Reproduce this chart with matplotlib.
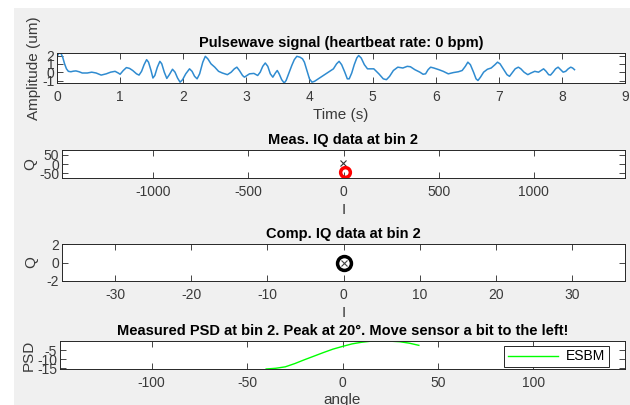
import matplotlib.pyplot as plt
from matplotlib.patches import Rectangle

plt.rcParams['font.family'] = ['Liberation Sans', 'DejaVu Sans']
plt.rcParams['font.size'] = 10
plt.rcParams['axes.unicode_minus'] = False

# pulse wave (s, um)
t_pulse = [0.00, 0.03, 0.06, 0.09, 0.12, 0.15, 0.18, 0.22, 0.26, 0.30, 0.35, 0.40,
           0.48, 0.55, 0.62, 0.70, 0.78, 0.85, 0.92, 0.97, 1.00, 1.05, 1.10, 1.15,
           1.20, 1.26, 1.30, 1.34, 1.38, 1.42, 1.45, 1.49, 1.52, 1.55, 1.59, 1.63,
           1.66, 1.70, 1.74, 1.78, 1.83, 1.87, 1.91, 1.95, 1.99, 2.04, 2.10, 2.14,
           2.18, 2.22, 2.26, 2.31, 2.35, 2.39, 2.44, 2.50, 2.56, 2.62, 2.70, 2.76,
           2.81, 2.85, 2.89, 2.94, 2.97, 3.01, 3.05, 3.12, 3.18, 3.22, 3.26, 3.30,
           3.34, 3.38, 3.42, 3.46, 3.49, 3.52, 3.56, 3.60, 3.63, 3.67, 3.72, 3.76,
           3.80, 3.85, 3.89, 3.92, 3.96, 4.00, 4.04, 4.08, 4.14, 4.20, 4.30, 4.38,
           4.43, 4.47, 4.51, 4.56, 4.60, 4.63, 4.67, 4.71, 4.75, 4.78, 4.82, 4.87,
           4.92, 4.97, 5.02, 5.10, 5.17, 5.22, 5.27, 5.33, 5.40, 5.48, 5.55, 5.60,
           5.67, 5.75, 5.80, 5.84, 5.88, 5.92, 5.97, 6.05, 6.12, 6.20, 6.28, 6.36,
           6.42, 6.47, 6.51, 6.55, 6.60, 6.64, 6.67, 6.71, 6.76, 6.82, 6.88, 6.94,
           6.98, 7.02, 7.08, 7.13, 7.17, 7.21, 7.26, 7.31, 7.35, 7.40, 7.46, 7.51,
           7.57, 7.63, 7.67, 7.71, 7.75, 7.79, 7.82, 7.86, 7.90, 7.94, 7.98, 8.02,
           8.06, 8.10, 8.14, 8.17, 8.20]
amp_pulse = [1.9, 2.25, 2.3, 1.8, 1.0, 0.4, 0.1, 0.05, 0.12, 0.15, 0.05, -0.1,
             -0.1, 0.0, -0.1, -0.35, -0.2, 0.0, 0.1, -0.1, -0.25, 0.2, 0.55, 0.45,
             0.2, -0.2, -0.35, 0.1, 0.9, 1.5, 1.2, 0.2, -0.7, -0.4, 0.6, 1.3,
             1.0, 0.0, -0.75, -0.3, 0.35, 0.0, -0.7, -1.2, -0.9, -0.2, 0.4, 0.1,
             -0.5, -0.8, -0.2, 1.2, 1.9, 1.6, 1.0, 0.6, 0.1, -0.1, -0.3, 0.0,
             0.4, 0.6, 0.2, -0.4, -0.6, -0.4, -0.2, -0.15, -0.4, 0.0, 0.7, 1.1,
             0.7, -0.2, -0.6, -0.1, 0.2, -0.2, -0.9, -1.3, -1.0, -0.2, 0.8, 1.5,
             1.9, 1.8, 1.6, 1.2, 0.2, -0.8, -1.2, -1.1, -0.8, -0.5, 0.0, 0.4,
             1.0, 1.3, 0.9, 0.0, -0.8, -0.8, -0.1, 0.9, 1.7, 2.0, 1.7, 0.9,
             0.4, 0.4, 0.4, -0.2, -0.8, -0.9, -0.5, 0.2, 0.6, 0.5, 0.7, 0.65,
             0.3, 0.0, -0.25, -0.2, 0.3, 0.6, 0.5, 0.3, 0.1, -0.2, -0.05, 0.05,
             0.2, 0.7, 1.2, 0.9, 0.0, -0.8, -1.0, -0.6, 0.0, 0.35, 0.5, 0.9,
             1.2, 1.0, 0.3, -0.3, -0.5, -0.1, 0.4, 0.6, 0.4, 0.0, -0.3, -0.1,
             0.1, 0.0, 0.2, 0.4, 0.1, -0.3, -0.35, 0.0, 0.4, 0.6, 0.3, 0.0,
             0.1, 0.4, 0.6, 0.5, 0.3]
heart_rate = 0

# IQ points at bin 2
bin_idx = 2
meas_i, meas_q = [-5], [3]
meas_ref_i, meas_ref_q = [10], [-43]
comp_i, comp_q = [0], [0]

# PSD over angle (dB)
angles = [-40, -35, -30, -25, -20, -15, -10, -5, 0, 5, 10, 15, 20, 25, 30, 35, 40]
psd = [-15.5, -15.1, -14.3, -12.5, -10.4, -8.4, -6.4, -4.5, -3.0, -1.6, -0.7,
       -0.1, 0.0, -0.1, -0.4, -1.2, -2.4]
peak_angle = angles[psd.index(max(psd))]

W, H = 630, 405
fig = plt.figure(figsize=(W / 100, H / 100), dpi=100, facecolor='white')
fig.patches.append(Rectangle((14 / W, 0), 1 - 14 / W, (H - 8) / H,
                             transform=fig.transFigure, facecolor='#f0f0f0',
                             edgecolor='none', zorder=-10))


def box(left, top, right, bottom):
    return [left / W, (H - bottom) / H, (right - left) / W, (bottom - top) / H]


def style(ax):
    ax.set_facecolor('white')
    for s in ax.spines.values():
        s.set_color('#262626')
        s.set_linewidth(0.7)
    ax.tick_params(direction='in', top=True, right=True, length=4, width=0.6,
                   colors='#262626', labelcolor='#3a3a3a', labelsize=10)
    ax.tick_params(axis='x', pad=5)
    ax.tick_params(axis='y', pad=2)


title_kw = dict(fontsize=10.5, fontweight='bold', pad=4)
label_kw = dict(fontsize=11, color='#3a3a3a')

ax1 = fig.add_axes(box(57, 53, 625, 83))
ax1.plot(t_pulse, amp_pulse, color='#2f8bd0', lw=1.1, solid_joinstyle='round')
ax1.set_xlim(0, 9)
ax1.set_ylim(-1.3, 2.3)
ax1.set_xticks(range(10))
ax1.set_yticks([-1, 0, 1, 2])
ax1.set_title('Pulsewave signal (heartbeat rate: %d bpm)' % heart_rate, **title_kw)
ax1.set_xlabel('Time (s)', labelpad=3, **label_kw)
ax1.set_ylabel('Amplitude (um)', labelpad=1, **label_kw)
style(ax1)

ax2 = fig.add_axes(box(62, 150, 625, 178))
ax2.plot(meas_i, meas_q, 'x', color='#333333', ms=5, mew=0.8)
ax2.plot(meas_ref_i, meas_ref_q, 'o', color='red', mfc='none', ms=7, mew=2.5)
ax2.set_xlim(-1480, 1480)
ax2.set_ylim(-75, 75)
ax2.set_xticks([-1000, -500, 0, 500, 1000])
ax2.set_yticks([-50, 0, 50])
ax2.set_title('Meas. IQ data at bin %d' % bin_idx, **title_kw)
ax2.set_xlabel('I', labelpad=3, **label_kw)
ax2.set_ylabel('Q', labelpad=1, **label_kw)
style(ax2)

ax3 = fig.add_axes(box(62, 244, 625, 281))
ax3.plot(comp_i, comp_q, 'o', color='black', mfc='none', ms=10, mew=2.5)
ax3.plot(comp_i, comp_q, 'x', color='#444444', ms=5, mew=0.8)
ax3.set_xlim(-37, 37)
ax3.set_ylim(-2, 2)
ax3.set_xticks([-30, -20, -10, 0, 10, 20, 30])
ax3.set_yticks([-2, 0, 2])
ax3.set_title('Comp. IQ data at bin %d' % bin_idx, **title_kw)
ax3.set_xlabel('I', labelpad=3, **label_kw)
ax3.set_ylabel('Q', labelpad=6, **label_kw)
style(ax3)

ax4 = fig.add_axes(box(60, 341, 625, 369))
ax4.plot(angles, psd, color='#00ff00', lw=1, label='ESBM')
ax4.set_xlim(-148, 148)
ax4.set_ylim(-15.5, 0)
ax4.set_xticks([-100, -50, 0, 50, 100])
ax4.set_yticks([-15, -10, -5])
ax4.set_title('Measured PSD at bin %d. Peak at %d\u00b0. Move sensor a bit to the left!'
              % (bin_idx, peak_angle), **title_kw)
ax4.set_xlabel('angle', labelpad=2, **label_kw)
ax4.set_ylabel('PSD', labelpad=1, **label_kw)
leg = ax4.legend(loc='lower right', bbox_to_anchor=(1 - 14 / 565, 0),
                 fontsize=10, fancybox=False, framealpha=1,
                 edgecolor='#262626', borderaxespad=0.15, borderpad=0.25,
                 handlelength=3.6, handletextpad=0.6)
leg.get_frame().set_linewidth(0.7)
style(ax4)

fig.savefig('out.png', dpi=100, facecolor=fig.get_facecolor())
